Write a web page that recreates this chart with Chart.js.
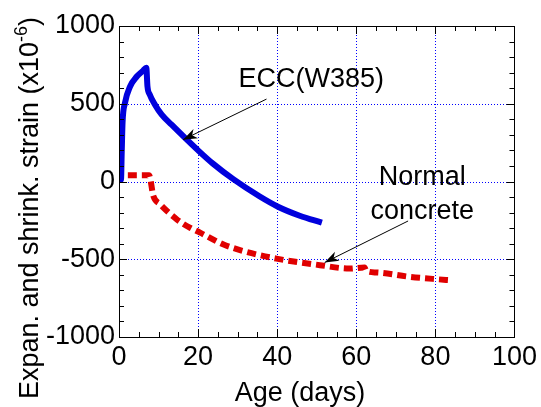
<!DOCTYPE html>
<html>
<head>
<meta charset="utf-8">
<script src="https://cdn.jsdelivr.net/npm/chart.js@4"></script>
<style>
  html, body { margin: 0; padding: 0; background: #fff; }
  canvas { display: block; }
</style>
</head>
<body>
<canvas id="strainChart" width="541" height="407"></canvas>
<script>
// --- data ---
const eccDays   = [0, 0.05, 0.25, 0.5, 0.7, 0.9, 1.5, 2.8, 4.5, 6.1, 6.9, 7.2, 7.8, 9.1, 10.8, 13.3, 16.7, 20, 23.6, 28.9, 35.5, 40.2, 45.7, 51.3];
const eccStrain = [-10, 130, 10, 10, 200, 380, 504, 611, 675, 713, 732, 611, 558, 494, 430, 365, 280, 200, 118, 15, -95, -162, -220, -265];

const ncDays   = [0, 0.3, 7.6, 8.7, 10.4, 14.6, 17.9, 20.5, 26.3, 31.4, 39.8, 50.8, 58.3, 62.1, 62.5, 65.1, 73.5, 80.2, 84];
const ncStrain = [0, 40, 40, -94, -147, -243, -297, -329, -404, -447, -496, -538, -560, -553, -575, -585, -613, -628, -635];

const xTicks = [0, 20, 40, 60, 80, 100];
const yTicks = [-1000, -500, 0, 500, 1000];

// annotation anchors, in data units
const notes = [
  { lines: ['ECC(W385)'], x: 48.6, y: 654, from: [37.3, 530], to: [16.2, 269] },
  { lines: ['Normal', 'concrete'], x: 76.7, y: -82, from: [73.1, -254], to: [52, -521] }
];

const FONT = 'Liberation Sans, Arial, sans-serif';

const toXY = (xs, ys) => xs.map((x, i) => ({ x: x, y: ys[i] }));

// grid, frame, ticks and labels drawn through the chart's scales
const framePlugin = {
  id: 'frame',
  beforeDatasetsDraw(chart) {
    const { ctx, chartArea: a, scales: { x, y } } = chart;
    ctx.save();
    ctx.strokeStyle = '#0000ff';
    ctx.lineWidth = 1;
    ctx.setLineDash([1, 2]);
    xTicks.slice(1, -1).forEach(v => {
      const px = Math.round(x.getPixelForValue(v)) + 0.5;
      ctx.beginPath(); ctx.moveTo(px, a.top); ctx.lineTo(px, a.bottom); ctx.stroke();
    });
    yTicks.slice(1, -1).forEach(v => {
      const py = Math.round(y.getPixelForValue(v)) + 0.5;
      ctx.beginPath(); ctx.moveTo(a.left, py); ctx.lineTo(a.right, py); ctx.stroke();
    });
    ctx.restore();
  },
  afterDatasetsDraw(chart) {
    const { ctx, chartArea: a, scales: { x, y } } = chart;
    ctx.save();
    ctx.strokeStyle = '#000';
    ctx.lineWidth = 1;
    ctx.strokeRect(Math.round(a.left) + 0.5, Math.round(a.top) + 0.5,
                   Math.round(a.right - a.left), Math.round(a.bottom - a.top));

    // inward ticks: minor every 5 days / 100 strain
    ctx.beginPath();
    for (let v = 0; v <= 100; v += 5) {
      const px = Math.round(x.getPixelForValue(v)) + 0.5;
      const len = v % 20 === 0 ? 8 : 5;
      ctx.moveTo(px, a.bottom); ctx.lineTo(px, a.bottom - len);
      ctx.moveTo(px, a.top); ctx.lineTo(px, a.top + len);
    }
    for (let v = -1000; v <= 1000; v += 100) {
      const py = Math.round(y.getPixelForValue(v)) + 0.5;
      const len = v % 500 === 0 ? 8 : 5;
      ctx.moveTo(a.left, py); ctx.lineTo(a.left + len, py);
      ctx.moveTo(a.right, py); ctx.lineTo(a.right - len, py);
    }
    ctx.stroke();

    // annotations with arrows
    ctx.font = '27px ' + FONT;
    ctx.fillStyle = '#000';
    ctx.textAlign = 'center';
    ctx.textBaseline = 'middle';
    notes.forEach(n => {
      const cx = x.getPixelForValue(n.x);
      const cy = y.getPixelForValue(n.y);
      const lh = 34;
      n.lines.forEach((t, i) => {
        ctx.fillText(t, cx, cy + (i - (n.lines.length - 1) / 2) * lh);
      });
      const x0 = x.getPixelForValue(n.from[0]), y0 = y.getPixelForValue(n.from[1]);
      const x1 = x.getPixelForValue(n.to[0]),   y1 = y.getPixelForValue(n.to[1]);
      const ang = Math.atan2(y1 - y0, x1 - x0);
      ctx.beginPath(); ctx.moveTo(x0, y0); ctx.lineTo(x1, y1); ctx.stroke();
      const head = 15, spread = 0.35;
      ctx.beginPath();
      ctx.moveTo(x1, y1);
      ctx.lineTo(x1 - head * Math.cos(ang - spread), y1 - head * Math.sin(ang - spread));
      ctx.lineTo(x1 - 10 * Math.cos(ang), y1 - 10 * Math.sin(ang));
      ctx.lineTo(x1 - head * Math.cos(ang + spread), y1 - head * Math.sin(ang + spread));
      ctx.closePath();
      ctx.fill();
    });

    // axis titles
    ctx.textBaseline = 'alphabetic';
    ctx.fillText('Age (days)', 300, 401);

    ctx.translate(38, 208);
    ctx.rotate(-Math.PI / 2);
    const main = 'Expan. and shrink. strain (x10';
    const sup = '-6';
    const close = ')';
    ctx.font = '27px ' + FONT;
    const wMain = ctx.measureText(main).width;
    const wClose = ctx.measureText(close).width;
    ctx.font = '18px ' + FONT;
    const wSup = ctx.measureText(sup).width;
    let pos = -(wMain + wSup + wClose) / 2;
    ctx.textAlign = 'left';
    ctx.font = '27px ' + FONT;
    ctx.fillText(main, pos, 0); pos += wMain;
    ctx.font = '18px ' + FONT;
    ctx.fillText(sup, pos, -11); pos += wSup;
    ctx.font = '27px ' + FONT;
    ctx.fillText(close, pos, 0);
    ctx.restore();
  }
};

new Chart(document.getElementById('strainChart'), {
  type: 'line',
  data: {
    datasets: [
      {
        label: 'ECC(W385)',
        data: toXY(eccDays, eccStrain),
        borderColor: '#0000dd',
        borderWidth: 6,
        pointRadius: 0,
        cubicInterpolationMode: 'monotone'
      },
      {
        label: 'Normal concrete',
        data: toXY(ncDays, ncStrain),
        borderColor: '#e00000',
        borderWidth: 6,
        borderDash: [9, 5],
        pointRadius: 0,
        cubicInterpolationMode: 'monotone'
      }
    ]
  },
  options: {
    responsive: false,
    animation: false,
    devicePixelRatio: 1,
    layout: { padding: { left: 0, top: 26, right: 26, bottom: 0 } },
    plugins: { legend: { display: false }, tooltip: { enabled: false } },
    scales: {
      x: {
        type: 'linear',
        min: 0, max: 100,
        grid: { display: false, drawTicks: false },
        border: { display: false },
        ticks: { stepSize: 20, padding: 4, color: '#000', font: { family: FONT, size: 27 }, maxRotation: 0,
                 callback: v => String(v) },
        afterFit(scale) { scale.height = 70; }
      },
      y: {
        type: 'linear',
        min: -1000, max: 1000,
        grid: { display: false, drawTicks: false },
        border: { display: false },
        ticks: { stepSize: 500, padding: 4, color: '#000', font: { family: FONT, size: 27 },
                 callback: v => String(v) },
        afterFit(scale) { scale.width = 119; }
      }
    }
  },
  plugins: [framePlugin]
});
</script>
</body>
</html>
